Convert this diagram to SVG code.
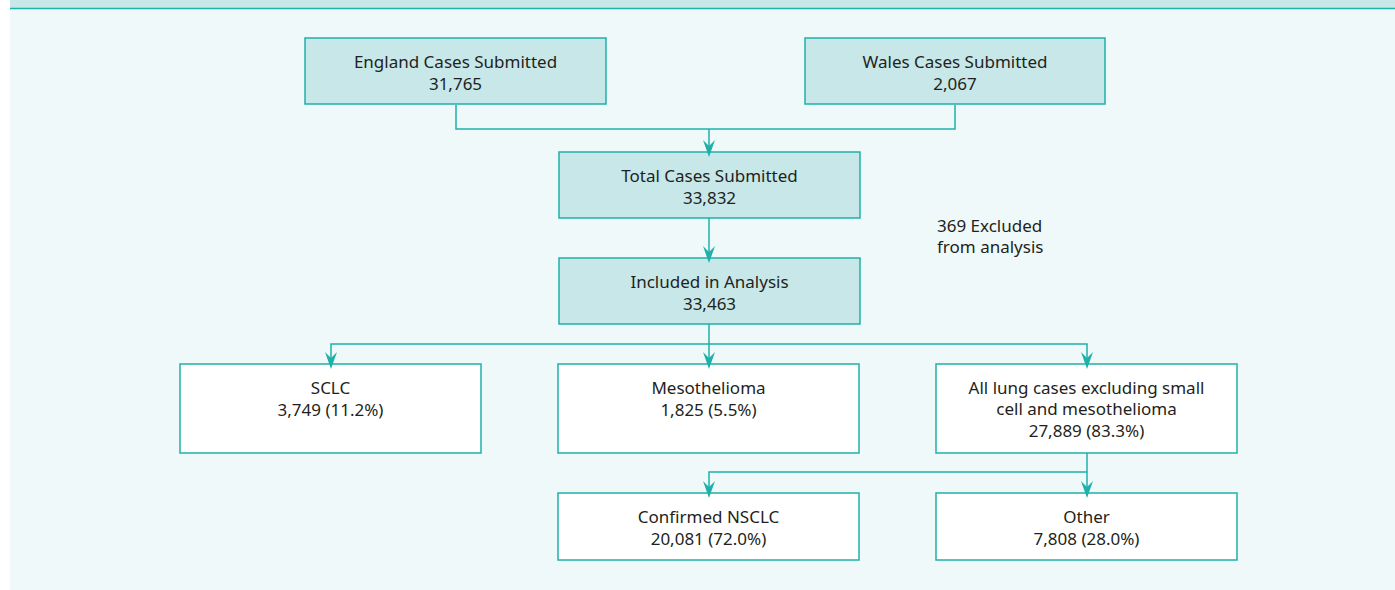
<svg xmlns="http://www.w3.org/2000/svg" width="1395" height="590" viewBox="0 0 1395 590">
<defs>
<style>
.box{stroke:#1fb0aa;stroke-width:1.5}
.teal{fill:#c7e7e8}
.white{fill:#ffffff}
.t{font-family:"Noto Sans","Open Sans",sans-serif;font-size:17px;fill:#231f20;text-anchor:middle}
.conn{fill:none;stroke:#1fb0aa;stroke-width:1.5}
</style>
<path id="ah" d="M-6,-12 L0,-6 L6,-12 L0,5 Z" fill="#1fb0aa"/>
</defs>
<rect x="0" y="0" width="1395" height="590" fill="#ffffff"/>
<rect x="10" y="0" width="1385" height="590" fill="#eff9f9"/>
<rect x="10" y="0" width="1385" height="8" fill="#c7e7e8"/>
<line x1="10" y1="8.5" x2="1395" y2="8.5" stroke="#1fb0aa" stroke-width="1.5"/>
<g id="england">
<rect class="box teal" x="305" y="38" width="301" height="66"/>
<text class="t" x="455.5" y="68">England Cases Submitted</text>
<text class="t" x="455.5" y="90">31,765</text>
</g>
<g id="wales">
<rect class="box teal" x="805" y="38" width="300" height="66"/>
<text class="t" x="955" y="68">Wales Cases Submitted</text>
<text class="t" x="955" y="90">2,067</text>
</g>
<g id="total">
<rect class="box teal" x="559" y="152" width="301" height="66"/>
<text class="t" x="709.5" y="182">Total Cases Submitted</text>
<text class="t" x="709.5" y="204">33,832</text>
</g>
<g id="excluded">
<text class="t" x="937" y="232" style="text-anchor:start">369 Excluded</text>
<text class="t" x="937" y="253" style="text-anchor:start">from analysis</text>
</g>
<g id="included">
<rect class="box teal" x="559" y="258" width="301" height="66"/>
<text class="t" x="709.5" y="288">Included in Analysis</text>
<text class="t" x="709.5" y="310">33,463</text>
</g>
<g id="sclc">
<rect class="box white" x="180" y="364" width="301" height="89"/>
<text class="t" x="330.5" y="394">SCLC</text>
<text class="t" x="330.5" y="416">3,749 (11.2%)</text>
</g>
<g id="meso">
<rect class="box white" x="558" y="364" width="301" height="89"/>
<text class="t" x="708.5" y="394">Mesothelioma</text>
<text class="t" x="708.5" y="416">1,825 (5.5%)</text>
</g>
<g id="alllung">
<rect class="box white" x="936" y="364" width="301" height="89"/>
<text class="t" x="1086.5" y="394">All lung cases excluding small</text>
<text class="t" x="1086.5" y="415">cell and mesothelioma</text>
<text class="t" x="1086.5" y="437">27,889 (83.3%)</text>
</g>
<g id="nsclc">
<rect class="box white" x="558" y="493" width="301" height="67"/>
<text class="t" x="708.5" y="523">Confirmed NSCLC</text>
<text class="t" x="708.5" y="545">20,081 (72.0%)</text>
</g>
<g id="other">
<rect class="box white" x="936" y="493" width="301" height="67"/>
<text class="t" x="1086.5" y="523">Other</text>
<text class="t" x="1086.5" y="545">7,808 (28.0%)</text>
</g>
<g id="connectors">
<path class="conn" d="M456,105 V129 H955 V105"/>
<path class="conn" d="M709,129 V146"/>
<path class="conn" d="M709,218 V252"/>
<path class="conn" d="M709,324 V358"/>
<path class="conn" d="M331,358 V344 H1087 V358"/>
<path class="conn" d="M1087,453 V487"/>
<path class="conn" d="M709,487 V472 H1087"/>
<use href="#ah" x="709" y="152"/>
<use href="#ah" x="709" y="258"/>
<use href="#ah" x="709" y="364"/>
<use href="#ah" x="331" y="364"/>
<use href="#ah" x="1087" y="364"/>
<use href="#ah" x="709" y="493"/>
<use href="#ah" x="1087" y="493"/>
</g>
</svg>
